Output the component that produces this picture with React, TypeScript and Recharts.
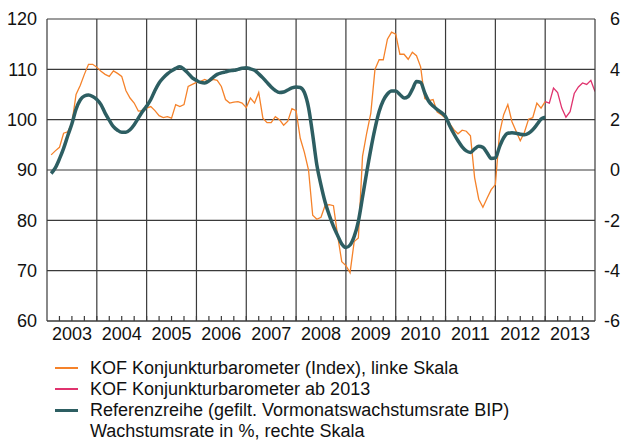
import React from 'react';
import { ComposedChart, Line, XAxis, YAxis, CartesianGrid, ReferenceLine } from 'recharts';

// Monthly values, Jan 2003 .. Dec 2013
const YEARS = [2003, 2004, 2005, 2006, 2007, 2008, 2009, 2010, 2011, 2012, 2013];
const LEFT_TICKS = [60, 70, 80, 90, 100, 110, 120];
const RIGHT_TICKS = [-6, -4, -2, 0, 2, 4, 6];

// KOF Konjunkturbarometer (Index), 2003-2012
const kofIndex = [
  93, 93.8, 94.5, 97.3, 97.6, 99.3, 105, 106.8, 109, 111, 111, 110.4, // 2003
  109.6, 109, 108.6, 109.7, 109.2, 108.6, 105.8, 104.3, 103.3, 101.7, 101.8, 102.3, // 2004
  102.6, 101.8, 100.8, 100.4, 100.6, 100.3, 103, 102.6, 103, 106.6, 107, 107.4, // 2005
  107.6, 108, 107.6, 108, 107.8, 106.6, 104, 103.3, 103.5, 103.6, 103.3, 102.4, // 2006
  104.3, 103.3, 105.4, 100.3, 99.4, 99.4, 100.6, 100, 98.9, 99.7, 102.2, 101.8, // 2007
  96.3, 93.5, 90, 81, 80.2, 80.6, 83, 83.1, 82.9, 77, 71.8, 71, // 2008
  69.6, 75.8, 76.5, 92.7, 97.3, 101.3, 110, 111.9, 111.9, 116, 117.4, 117, // 2009
  113, 113, 112, 113.4, 112.7, 110.5, 104.2, 103.8, 104, 101.5, 101, 100.3, // 2010
  99.2, 98, 97.2, 97.9, 97.7, 96.8, 88.5, 84.2, 82.6, 84.4, 86.1, 87.1, // 2011
  97.3, 101, 103, 99.6, 97.7, 95.8, 97.5, 100.1, 100.4, 103.3, 102.3, 103.6, // 2012
];

// KOF Konjunkturbarometer ab 2013
const kof2013 = [103.3, 106.3, 105.4, 102.3, 100.5, 101.6, 105.2, 106.5, 107.3, 107, 107.8, 105.6];

// Referenzreihe, Wachstumsrate in % (rechte Skala), 2003-2012
const referenz = [
  -0.14, 0.08, 0.44, 0.86, 1.36, 1.84, 2.42, 2.78, 2.94, 2.98, 2.92, 2.8, // 2003
  2.6, 2.26, 1.98, 1.72, 1.58, 1.5, 1.5, 1.6, 1.8, 2.06, 2.32, 2.54, // 2004
  2.8, 3.16, 3.46, 3.66, 3.82, 3.94, 4.04, 4.1, 4.0, 3.84, 3.66, 3.56, // 2005
  3.48, 3.46, 3.54, 3.68, 3.8, 3.86, 3.9, 3.94, 3.96, 4.0, 4.04, 4.06, // 2006
  4.02, 3.96, 3.82, 3.66, 3.48, 3.3, 3.16, 3.08, 3.1, 3.18, 3.26, 3.3, // 2007
  3.28, 3.08, 2.48, 1.4, 0.2, -0.6, -1.28, -1.8, -2.24, -2.6, -2.94, -3.08, // 2008
  -2.98, -2.64, -2.04, -1.08, -0.1, 0.82, 1.64, 2.32, 2.76, 3.02, 3.14, 3.14, // 2009
  3.0, 2.86, 2.92, 3.2, 3.52, 3.48, 3.06, 2.72, 2.54, 2.4, 2.28, 2.12, // 2010
  1.76, 1.44, 1.16, 0.92, 0.76, 0.7, 0.84, 0.94, 0.9, 0.68, 0.46, 0.48, // 2011
  0.92, 1.28, 1.46, 1.48, 1.46, 1.42, 1.4, 1.46, 1.6, 1.8, 2.02, 2.1, // 2012
];

const ORANGE = '#f5822a';
const PINK = '#e0336e';
const TEAL = '#2d5e62';
const GRID = '#3a3a3a';
const FONT = '"Liberation Sans", Arial, sans-serif';

const start = YEARS[0];
const end = YEARS[YEARS.length - 1] + 1;
const nOld = kofIndex.length;

// month-end positions on a continuous year axis
const data = Array.from({ length: nOld + kof2013.length }, (_, i) => ({
  t: start + (i + 1) / 12,
  kof: i < nOld ? kofIndex[i] : undefined,
  kof13: i === nOld - 1 ? kofIndex[i] : i >= nOld ? kof2013[i - nOld] : undefined,
  ref: i < nOld ? referenz[i] : undefined,
}));

const quarterTicks = YEARS.flatMap((y) => [y + 0.25, y + 0.5, y + 0.75, y + 1]).filter((v) => v < end);

const XTick = (p: any) => {
  const v = p.payload.value;
  const yr = Math.floor(v);
  const mid = Math.abs(v - yr - 0.5) < 1e-6;
  return (
    <g>
      <line x1={p.x} x2={p.x} y1={p.y} y2={p.y - 5} stroke={GRID} strokeWidth={1.2} />
      {mid && (
        <text x={p.x} y={p.y + 12.5} dy="0.355em" textAnchor="middle" fontSize={18} fill="#111" fontFamily={FONT}>
          {yr}
        </text>
      )}
    </g>
  );
};

const LeftTick = (p: any) => (
  <text x={p.x - 10} y={p.y} dy="0.355em" textAnchor="end" fontSize={18} fill="#111" fontFamily={FONT}>
    {p.payload.value}
  </text>
);

const RightTick = (p: any) => (
  <text x={p.x + 25} y={p.y} dy="0.355em" textAnchor="end" fontSize={18} fill="#111" fontFamily={FONT}>
    {p.payload.value}
  </text>
);

const legendItems = [
  { label: 'KOF Konjunkturbarometer (Index), linke Skala', color: ORANGE, w: 1.6 },
  { label: 'KOF Konjunkturbarometer ab 2013', color: PINK, w: 1.6 },
  { label: 'Referenzreihe (gefilt. Vormonatswachstumsrate BIP)', color: TEAL, w: 3 },
  { label: 'Wachstumsrate in %, rechte Skala', color: null, w: 0 },
];

export default function App() {
  return (
    <div style={{ position: 'absolute', left: 0, top: 0, width: 623, height: 442, background: '#fff', fontFamily: FONT, overflow: 'hidden' }}>
      <ComposedChart width={623} height={351} data={data} margin={{ top: 19, right: 0, bottom: 0, left: 0 }}>
        <CartesianGrid vertical={false} stroke={GRID} strokeWidth={1.2} yAxisId="l" />
        <XAxis
          dataKey="t"
          type="number"
          domain={[start, end]}
          ticks={quarterTicks}
          interval={0}
          height={30}
          tickSize={0}
          tickMargin={0}
          tickLine={false}
          axisLine={{ stroke: GRID, strokeWidth: 1.2 }}
          tick={<XTick />}
          allowDataOverflow
        />
        <YAxis
          yAxisId="l"
          domain={[60, 120]}
          ticks={LEFT_TICKS}
          width={47}
          tickSize={0}
          tickMargin={0}
          tickLine={false}
          axisLine={{ stroke: GRID, strokeWidth: 1.2 }}
          tick={<LeftTick />}
          interval={0}
        />
        <YAxis
          yAxisId="r"
          orientation="right"
          domain={[-6, 6]}
          ticks={RIGHT_TICKS}
          width={28}
          tickSize={0}
          tickMargin={0}
          tickLine={false}
          axisLine={{ stroke: GRID, strokeWidth: 1.2 }}
          tick={<RightTick />}
          interval={0}
        />
        {YEARS.slice(1).map((y) => (
          <ReferenceLine key={y} x={y} yAxisId="l" stroke={GRID} strokeWidth={1.2} />
        ))}
        <Line yAxisId="l" dataKey="kof" type="linear" stroke={ORANGE} strokeWidth={1.3} dot={false} isAnimationActive={false} />
        <Line yAxisId="l" dataKey="kof13" type="linear" stroke={PINK} strokeWidth={1.3} dot={false} isAnimationActive={false} />
        <Line yAxisId="r" dataKey="ref" type="monotone" stroke={TEAL} strokeWidth={3.5} dot={false} isAnimationActive={false} />
      </ComposedChart>
      <div style={{ position: 'absolute', left: 0, top: 357.5 }}>
        {legendItems.map((it) => (
          <div key={it.label} style={{ position: 'relative', height: 21, lineHeight: '21px', fontSize: 18, color: '#111', whiteSpace: 'nowrap' }}>
            {it.color && (
              <span style={{ position: 'absolute', left: 55, top: 10.5 - it.w / 2, width: 23, height: it.w, background: it.color }} />
            )}
            <span style={{ position: 'absolute', left: 90, top: 0 }}>{it.label}</span>
          </div>
        ))}
      </div>
    </div>
  );
}
